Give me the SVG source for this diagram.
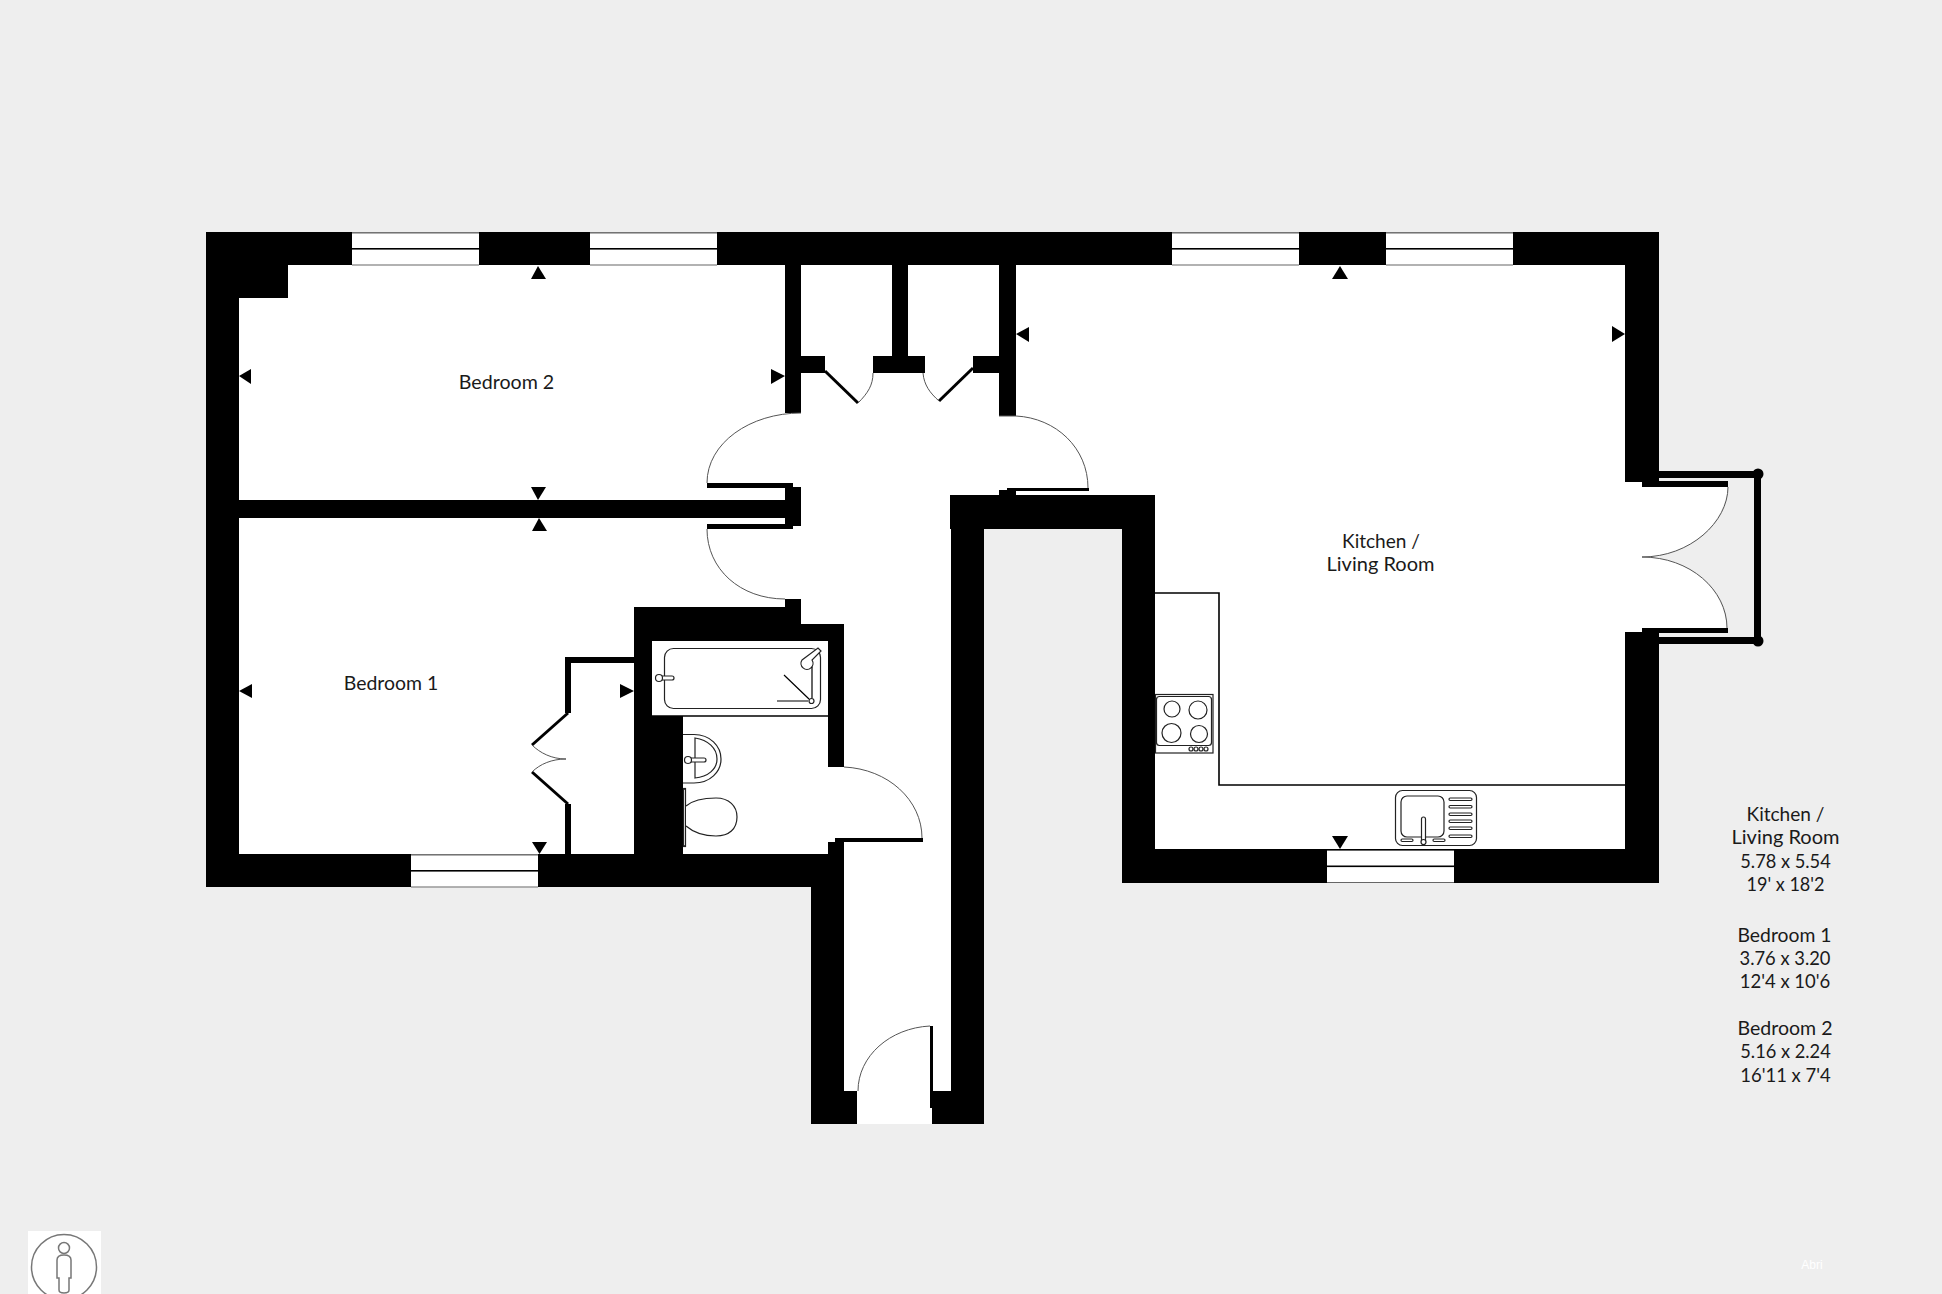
<svg xmlns="http://www.w3.org/2000/svg" width="1942" height="1294" viewBox="0 0 1942 1294">
<style>
.w{fill:#000}
.win{fill:#fff}
.ln{fill:none;stroke:#000;stroke-width:1.6}
.arc{fill:none;stroke:#555;stroke-width:1}
.fx{fill:#fff;stroke:#222;stroke-width:1.2}
.t{font-family:"Lato","Open Sans",sans-serif;font-size:20px;fill:#1a1a1a;text-anchor:middle}
</style>
<defs>
<g id="window"><rect class="win" width="127" height="33"/><rect y="15.500" width="127" height="1.600" fill="#000"/><rect width="127" height="1" fill="#666"/><rect y="32" width="127" height="1" fill="#666"/></g>
</defs>
<rect width="1942" height="1294" fill="#eeeeee"/>
<g id="floor" fill="#fff">
<path d="M206 232H1659V883H1122V529H984V1124H811V887H206Z"/>
<path id="balcony-door-swing" d="M1650 482H1728C1728 522 1690 557 1642 557C1690 557 1727 590 1727 632H1650Z"/>
</g>
<g id="walls" class="w">
<rect x="206" y="232" width="1453" height="33"/>
<rect x="206" y="232" width="33" height="655"/>
<rect x="239" y="265" width="49" height="33"/>
<rect x="206" y="854" width="638" height="33"/>
<rect x="785" y="265" width="16" height="148"/>
<rect x="801" y="356" width="24" height="17"/>
<rect x="873" y="356" width="52" height="17"/>
<rect x="973" y="356" width="26" height="17"/>
<rect x="892" y="265" width="16" height="91"/>
<rect x="999" y="265" width="17" height="151"/>
<rect x="239" y="500" width="546" height="18"/>
<rect x="785" y="487" width="16" height="39"/>
<rect x="707" y="483" width="86" height="5"/>
<rect x="707" y="524" width="86" height="5"/>
<rect x="785" y="599" width="16" height="25"/>
<rect x="634" y="607" width="151" height="34"/>
<rect x="785" y="624" width="59" height="17"/>
<rect x="634" y="641" width="18" height="75"/>
<rect x="634" y="716" width="49" height="138"/>
<rect x="828" y="641" width="16" height="126"/>
<rect x="828" y="842" width="16" height="12"/>
<rect x="835" y="838" width="88" height="4"/>
<rect x="811" y="887" width="33" height="237"/>
<rect x="844" y="1091" width="13" height="33"/>
<rect x="951" y="495" width="33" height="629"/>
<rect x="932" y="1091" width="19" height="33"/>
<rect x="930" y="1026" width="3" height="82"/>
<rect x="950" y="495" width="205" height="34"/>
<rect x="1122" y="495" width="33" height="388"/>
<rect x="1122" y="849" width="537" height="34"/>
<rect x="1625" y="232" width="34" height="250"/>
<rect x="1642" y="482" width="17" height="5"/>
<rect x="1642" y="481" width="86" height="6"/>
<rect x="1642" y="628" width="86" height="5"/>
<rect x="1625" y="632" width="34" height="251"/>
<rect x="1659" y="471" width="99" height="7"/>
<rect x="1659" y="637" width="99" height="7"/>
<rect x="1754" y="474" width="7" height="167"/>
<circle cx="1758" cy="474" r="5.500"/>
<circle cx="1758" cy="641" r="5.500"/>
<rect x="999" y="490" width="17" height="5"/>
<rect x="1007" y="488" width="82" height="3"/>
<rect x="565" y="657" width="69" height="6"/>
<rect x="565" y="657" width="6" height="56"/>
<rect x="565" y="804" width="6" height="50"/>
</g>
<g id="door-leaves" fill="none" stroke="#000" stroke-width="3">
<path d="M825 371L858 403"/>
<path d="M973 368L939 401"/>
<path d="M568 713L532 745"/>
<path d="M532 772L568 804"/>
</g>
<g id="door-arcs" class="arc">
<path d="M801 413C750 413 707 443 707 483"/>
<path d="M707 529C707 569 740 599 785 599"/>
<path d="M999 416H1016C1056 418 1088 448 1088 488"/>
<path d="M858 403C868 393 873 385 873 373"/>
<path d="M939 401C930 393 924 385 923 373"/>
<path d="M532 745C540 753 552 759 566 759C552 759 540 764 532 772"/>
<path d="M844 767C888 769 922 800 922 838"/>
<path d="M930 1026C890 1028 858 1056 858 1091"/>
<path d="M1728 487C1728 522 1690 557 1642 557C1690 557 1727 590 1727 628"/>
</g>
<g id="windows">
<use href="#window" x="352" y="232.500"/>
<use href="#window" x="590" y="232.500"/>
<use href="#window" x="1172" y="232.500"/>
<use href="#window" x="1386" y="232.500"/>
<use href="#window" x="411" y="854.500"/>
<use href="#window" x="1327" y="850"/>
</g>
<g id="dimension-arrows" fill="#000">
<path d="M538 266L546 279H531Z"/>
<path d="M239 376L251 369V384Z"/>
<path d="M785 376L771 369V384Z"/>
<path d="M538 500L546 487H531Z"/>
<path d="M539 518L547 531H532Z"/>
<path d="M239 691L252 684V698Z"/>
<path d="M634 691L620 684V698Z"/>
<path d="M539.500 854L547 842H532Z"/>
<path d="M1016 334L1029 327V342Z"/>
<path d="M1625 334L1612 326V342Z"/>
<path d="M1340 266L1348 279H1332Z"/>
<path d="M1340 849L1348 836H1332Z"/>
</g>
<g id="kitchen">
<path class="ln" d="M1155 593H1219V785H1625"/>
<g id="hob">
<rect class="fx" x="1155.500" y="694.500" width="57.500" height="58.500"/>
<rect class="fx" x="1156.500" y="696.500" width="55" height="49" rx="3"/>
<circle class="fx" cx="1172" cy="709" r="8"/>
<circle class="fx" cx="1198" cy="710" r="9"/>
<circle class="fx" cx="1171.500" cy="733" r="9.500"/>
<circle class="fx" cx="1199" cy="734" r="8.500"/>
<circle class="fx" cx="1191" cy="749" r="2"/>
<circle class="fx" cx="1196" cy="749" r="2"/>
<circle class="fx" cx="1201" cy="749" r="2"/>
<circle class="fx" cx="1206" cy="749" r="2"/>
</g>
<g id="sink">
<rect class="fx" x="1395.500" y="790.500" width="81" height="55" rx="7"/>
<rect class="fx" x="1401" y="796" width="43" height="41" rx="6"/>
<rect class="fx" x="1449" y="798" width="23" height="2.500" rx="1.200"/>
<rect class="fx" x="1449" y="805.500" width="23" height="2.500" rx="1.200"/>
<rect class="fx" x="1449" y="813" width="23" height="2.500" rx="1.200"/>
<rect class="fx" x="1449" y="820" width="23" height="2.500" rx="1.200"/>
<rect class="fx" x="1449" y="827" width="23" height="2.500" rx="1.200"/>
<rect class="fx" x="1449" y="835" width="23" height="2.500" rx="1.200"/>
<rect class="fx" x="1401" y="839" width="12" height="2.500" rx="1.200"/>
<rect class="fx" x="1433" y="839" width="12" height="2.500" rx="1.200"/>
<rect class="fx" x="1421.500" y="817" width="4" height="26" rx="2"/>
<circle class="fx" cx="1423.500" cy="842" r="2.500"/>
</g>
</g>
<g id="bathroom">
<rect x="652" y="641" width="176" height="75" fill="#fff"/>
<path class="ln" d="M652 716H828" stroke-width="1"/>
<g id="bath">
<rect class="fx" x="664.500" y="648.500" width="156" height="60" rx="9"/>
<path class="fx" d="M802 660L818 648L821 651L812 660A6 6 0 1 1 802 660Z"/>
<path class="ln" d="M812 667V698M784 675L809 699M777 701H808" style="stroke-width:1.200"/>
<circle class="fx" cx="811.500" cy="701" r="2.500"/>
<rect class="fx" x="659" y="676" width="15" height="4" rx="2"/>
<circle class="fx" cx="659" cy="678" r="3.500"/>
</g>
<g id="basin">
<path class="fx" d="M683 734.500H694C710 734.500 721 746 721 759C721 772 710 783 694 783H683"/>
<path class="fx" d="M695 738C708 740 717 748 717 759C717 769 708 777 695 778Z"/>
<rect class="fx" x="689" y="758" width="17" height="4" rx="2"/>
<circle class="fx" cx="688" cy="760" r="3.500"/>
</g>
<g id="wc">
<rect class="fx" x="683.500" y="788.500" width="2" height="58"/>
<path class="fx" d="M686 806C693 800 704 798 716 798C729 798 737 806 737 817C737 829 729 836 716 836C703 836 693 832 686 826"/>
</g>
</g>
<g id="labels" lengthAdjust="spacingAndGlyphs">
<text class="t" x="506.500" y="389" textLength="95.500" lengthAdjust="spacingAndGlyphs">Bedroom 2</text>
<text class="t" x="391" y="690" textLength="94.500" lengthAdjust="spacingAndGlyphs">Bedroom 1</text>
<text class="t" x="1381" y="548" textLength="78" lengthAdjust="spacingAndGlyphs">Kitchen /</text>
<text class="t" x="1380.500" y="571" textLength="108" lengthAdjust="spacingAndGlyphs">Living Room</text>
<text class="t" x="1785.500" y="821" textLength="78" lengthAdjust="spacingAndGlyphs">Kitchen /</text>
<text class="t" x="1785.500" y="844" textLength="108" lengthAdjust="spacingAndGlyphs">Living Room</text>
<text class="t" x="1785.500" y="868" textLength="90.500" lengthAdjust="spacingAndGlyphs">5.78 x 5.54</text>
<text class="t" x="1785.500" y="891" textLength="78" lengthAdjust="spacingAndGlyphs">19' x 18'2</text>
<text class="t" x="1784.500" y="942" textLength="94" lengthAdjust="spacingAndGlyphs">Bedroom 1</text>
<text class="t" x="1785" y="965" textLength="91" lengthAdjust="spacingAndGlyphs">3.76 x 3.20</text>
<text class="t" x="1785" y="988" textLength="90.500" lengthAdjust="spacingAndGlyphs">12'4 x 10'6</text>
<text class="t" x="1785" y="1035" textLength="95" lengthAdjust="spacingAndGlyphs">Bedroom 2</text>
<text class="t" x="1785.500" y="1058" textLength="90.500" lengthAdjust="spacingAndGlyphs">5.16 x 2.24</text>
<text class="t" x="1785.500" y="1082" textLength="90.500" lengthAdjust="spacingAndGlyphs">16'11 x 7'4</text>
</g>
<g id="person-icon">
<rect x="28" y="1231" width="73" height="63" fill="#fff"/>
<circle cx="64" cy="1267" r="32.500" fill="none" stroke="#777" stroke-width="1.500"/>
<circle cx="64" cy="1248" r="5.500" fill="none" stroke="#777" stroke-width="1.500"/>
<path d="M57 1260Q57 1255 64 1255Q71 1255 71 1260V1278H69V1290Q69 1293 64 1293Q59 1293 59 1290V1278H57Z" fill="none" stroke="#777" stroke-width="1.500"/>
</g>
<text id="brand" x="1812" y="1269" font-family="Liberation Sans, sans-serif" font-size="12" fill="#fff" text-anchor="middle">Abri</text>
</svg>
